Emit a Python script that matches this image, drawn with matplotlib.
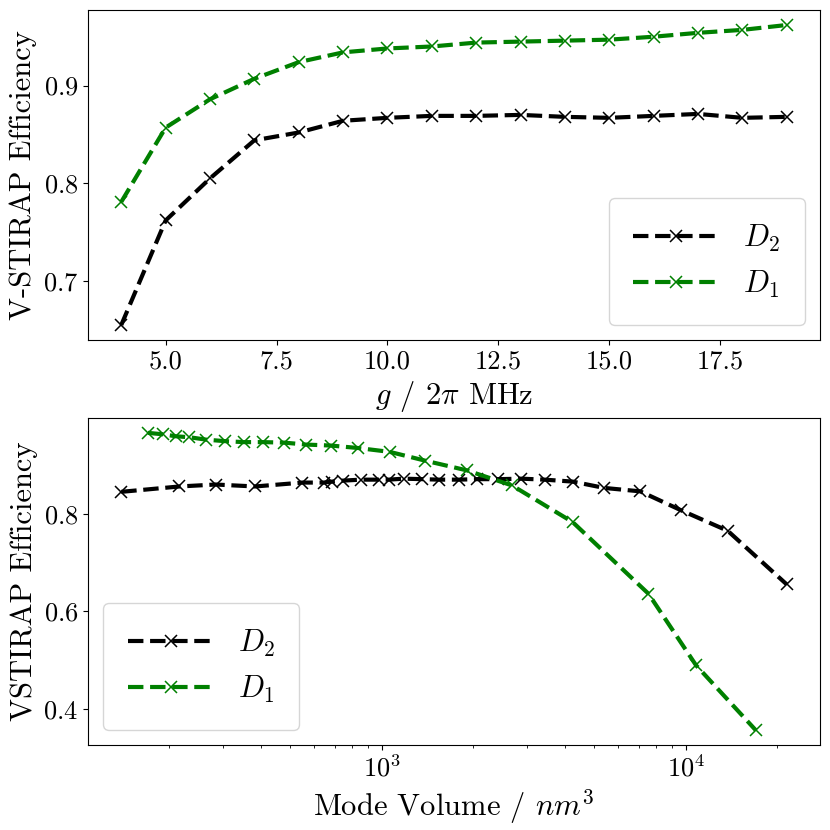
import matplotlib
matplotlib.use("Agg")
import matplotlib.pyplot as plt
from matplotlib.ticker import MultipleLocator, FormatStrFormatter

plt.rcParams['font.family'] = ['cmr10', 'DejaVu Serif']
plt.rcParams['mathtext.fontset'] = 'cm'
plt.rcParams['axes.formatter.use_mathtext'] = True

g = [4, 5, 6, 7, 8, 9, 10, 11, 12, 13, 14, 15, 16, 17, 18, 19]
eff_d2_g = [0.655, 0.762, 0.805, 0.844, 0.852, 0.864, 0.867, 0.869, 0.869, 0.870, 0.868, 0.867, 0.869, 0.871, 0.867, 0.868]
eff_d1_g = [0.781, 0.857, 0.886, 0.907, 0.924, 0.934, 0.938, 0.940, 0.944, 0.945, 0.946, 0.947, 0.950, 0.954, 0.957, 0.962]

vol_d2 = [139, 216, 284, 383, 548, 644, 686, 746, 853, 982, 1054, 1180, 1359, 1542, 1789,
          2061, 2415, 2879, 3433, 4243, 5393, 7079, 9660, 13740, 21480]
eff_d2_v = [0.845, 0.856, 0.860, 0.856, 0.864, 0.864, 0.866, 0.868, 0.870, 0.870, 0.870, 0.872, 0.871,
            0.870, 0.870, 0.871, 0.871, 0.872, 0.870, 0.866, 0.853, 0.846, 0.807, 0.765, 0.655]
vol_d1 = [170, 191, 210, 233, 265, 305, 351, 407, 477, 562, 679, 833, 1062, 1388, 1906,
          2684, 4243, 7534, 10810, 16980]
eff_d1_v = [0.966, 0.963, 0.959, 0.957, 0.952, 0.949, 0.947, 0.947, 0.946, 0.942, 0.940, 0.935,
            0.927, 0.909, 0.889, 0.858, 0.783, 0.636, 0.489, 0.356]

fig = plt.figure(figsize=(8.3, 8.3), dpi=100)
ax1 = fig.add_axes([88/830, 1-340/830, 732/830, 330/830])
ax2 = fig.add_axes([88/830, 1-745/830, 732/830, 327/830])

kw = dict(ls='--', marker='x', lw=3, ms=9, mew=1.1)
ax1.plot(g, eff_d2_g, color='black', label='$D_2$', **kw)
ax1.plot(g, eff_d1_g, color='green', label='$D_1$', **kw)
ax1.set_xlabel(r'$g$ / $2\pi$ MHz', fontsize=22)
ax1.set_ylabel('V-STIRAP Efficiency', fontsize=22)
ax1.xaxis.set_major_locator(MultipleLocator(2.5))
ax1.xaxis.set_major_formatter(FormatStrFormatter('%.1f'))
ax1.legend(loc='lower right', fontsize=22, handlelength=2.8, borderpad=0.8)

ax2.plot(vol_d2, eff_d2_v, color='black', label='$D_2$', **kw)
ax2.plot(vol_d1, eff_d1_v, color='green', label='$D_1$', **kw)
ax2.set_xscale('log')
ax2.set_xlabel(r'Mode Volume / $nm^3$', fontsize=22)
ax2.set_ylabel('VSTIRAP Efficiency', fontsize=22)
ax2.set_yticks([0.4, 0.6, 0.8])
ax2.legend(loc='lower left', fontsize=22, handlelength=2.8, borderpad=0.8)

for ax in (ax1, ax2):
    ax.tick_params(labelsize=19)

fig.savefig('out.png', dpi=100)
